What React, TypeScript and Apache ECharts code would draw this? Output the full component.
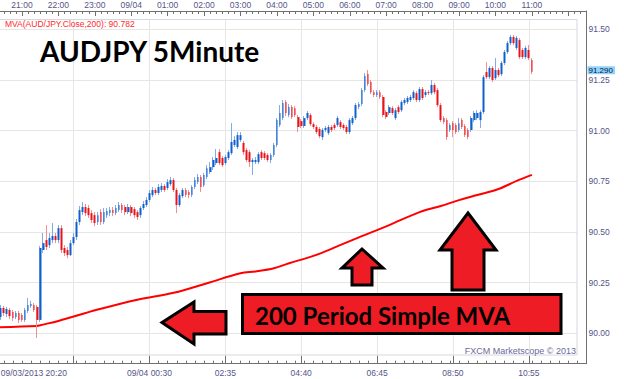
import React, { useEffect, useRef } from "react";
import * as echarts from "echarts";

// ---------- DATA ----------
const FIRST_MINUTE = 20 * 60 + 20; // 09/03/2013 20:20, 5-minute bars
const SLOT_COUNT = 195; // slots drawn on the time axis (to 12:30)

const pad = (n: number) => (n < 10 ? "0" + n : "" + n);
const categories: string[] = Array.from({ length: SLOT_COUNT }, (_, i) => {
  const m = (FIRST_MINUTE + 5 * i) % 1440;
  return pad(Math.floor(m / 60)) + ":" + pad(m % 60);
});

// [open, close, low, high]
const candles: number[][] = [
  [90.090, 90.115, 90.075, 90.130],
  [90.080, 90.125, 90.066, 90.140],
  [90.125, 90.100, 90.085, 90.135],
  [90.095, 90.120, 90.080, 90.130],
  [90.115, 90.085, 90.070, 90.125],
  [90.105, 90.075, 90.061, 90.115],
  [90.080, 90.100, 90.070, 90.110],
  [90.100, 90.066, 90.051, 90.110],
  [90.090, 90.066, 90.056, 90.100],
  [90.066, 90.115, 90.056, 90.125],
  [90.110, 90.140, 90.100, 90.174],
  [90.135, 90.144, 90.125, 90.160],
  [90.140, 90.115, 90.105, 90.149],
  [90.130, 90.066, 89.977, 90.140],
  [90.066, 90.421, 90.056, 90.431],
  [90.411, 90.445, 90.396, 90.495],
  [90.460, 90.426, 90.411, 90.534],
  [90.435, 90.470, 90.421, 90.495],
  [90.460, 90.480, 90.445, 90.544],
  [90.480, 90.460, 90.445, 90.495],
  [90.460, 90.519, 90.445, 90.534],
  [90.519, 90.411, 90.396, 90.534],
  [90.421, 90.396, 90.381, 90.435],
  [90.411, 90.386, 90.371, 90.426],
  [90.386, 90.445, 90.381, 90.460],
  [90.445, 90.475, 90.435, 90.495],
  [90.475, 90.549, 90.460, 90.564],
  [90.549, 90.608, 90.534, 90.628],
  [90.598, 90.623, 90.583, 90.648],
  [90.623, 90.593, 90.578, 90.638],
  [90.618, 90.583, 90.569, 90.633],
  [90.593, 90.559, 90.544, 90.608],
  [90.583, 90.544, 90.529, 90.598],
  [90.549, 90.583, 90.534, 90.598],
  [90.598, 90.549, 90.534, 90.613],
  [90.549, 90.598, 90.539, 90.618],
  [90.583, 90.603, 90.569, 90.618],
  [90.593, 90.608, 90.578, 90.623],
  [90.608, 90.593, 90.578, 90.623],
  [90.593, 90.618, 90.583, 90.633],
  [90.608, 90.633, 90.598, 90.648],
  [90.633, 90.608, 90.593, 90.643],
  [90.623, 90.598, 90.583, 90.633],
  [90.598, 90.623, 90.588, 90.638],
  [90.623, 90.593, 90.578, 90.633],
  [90.613, 90.583, 90.569, 90.623],
  [90.598, 90.574, 90.559, 90.608],
  [90.583, 90.618, 90.569, 90.628],
  [90.618, 90.638, 90.608, 90.653],
  [90.633, 90.658, 90.623, 90.672],
  [90.658, 90.692, 90.648, 90.707],
  [90.682, 90.707, 90.672, 90.722],
  [90.707, 90.692, 90.682, 90.717],
  [90.692, 90.722, 90.682, 90.736],
  [90.707, 90.727, 90.697, 90.741],
  [90.727, 90.707, 90.697, 90.736],
  [90.717, 90.746, 90.707, 90.761],
  [90.736, 90.756, 90.727, 90.771],
  [90.756, 90.707, 90.697, 90.766],
  [90.707, 90.633, 90.593, 90.717],
  [90.633, 90.682, 90.623, 90.692],
  [90.677, 90.707, 90.667, 90.717],
  [90.707, 90.682, 90.672, 90.717],
  [90.697, 90.682, 90.667, 90.707],
  [90.682, 90.722, 90.672, 90.731],
  [90.722, 90.756, 90.712, 90.771],
  [90.746, 90.771, 90.736, 90.786],
  [90.771, 90.722, 90.697, 90.781],
  [90.731, 90.781, 90.722, 90.791],
  [90.771, 90.815, 90.761, 90.830],
  [90.796, 90.820, 90.786, 90.845],
  [90.820, 90.855, 90.806, 90.870],
  [90.840, 90.865, 90.830, 90.909],
  [90.894, 90.840, 90.830, 90.909],
  [90.865, 90.830, 90.820, 90.875],
  [90.840, 90.870, 90.830, 90.880],
  [90.865, 90.894, 90.855, 90.904],
  [90.889, 90.944, 90.880, 91.037],
  [90.929, 90.954, 90.919, 90.973],
  [90.919, 90.978, 90.909, 90.993],
  [90.954, 90.978, 90.944, 90.993],
  [90.939, 90.894, 90.880, 90.949],
  [90.904, 90.855, 90.845, 90.914],
  [90.894, 90.845, 90.820, 90.904],
  [90.845, 90.855, 90.781, 90.865],
  [90.845, 90.855, 90.835, 90.870],
  [90.845, 90.884, 90.835, 90.894],
  [90.894, 90.865, 90.855, 90.904],
  [90.889, 90.865, 90.855, 90.899],
  [90.880, 90.855, 90.845, 90.889],
  [90.855, 90.880, 90.840, 90.889],
  [90.880, 90.929, 90.870, 90.939],
  [90.929, 91.052, 90.919, 91.062],
  [91.028, 91.087, 91.018, 91.126],
  [91.062, 91.136, 91.052, 91.151],
  [91.141, 91.087, 91.072, 91.151],
  [91.077, 91.116, 91.067, 91.131],
  [91.116, 91.067, 91.057, 91.126],
  [91.111, 91.077, 91.067, 91.121],
  [91.067, 91.018, 90.993, 91.077],
  [91.047, 91.023, 91.013, 91.057],
  [91.023, 91.062, 91.013, 91.072],
  [91.062, 91.087, 91.052, 91.097],
  [91.077, 91.032, 91.023, 91.087],
  [91.032, 91.018, 91.008, 91.042],
  [91.018, 90.993, 90.983, 91.028],
  [91.008, 90.973, 90.963, 91.018],
  [90.968, 91.003, 90.954, 91.013],
  [91.003, 91.013, 90.993, 91.023],
  [90.988, 91.018, 90.978, 91.028],
  [91.018, 91.003, 90.993, 91.028],
  [91.028, 91.013, 91.003, 91.037],
  [91.028, 91.062, 91.018, 91.072],
  [91.042, 91.018, 91.008, 91.052],
  [91.028, 91.013, 91.003, 91.037],
  [91.018, 90.993, 90.983, 91.028],
  [90.993, 91.052, 90.983, 91.062],
  [91.037, 91.062, 91.028, 91.072],
  [91.062, 91.126, 91.052, 91.136],
  [91.116, 91.131, 91.106, 91.141],
  [91.131, 91.200, 91.121, 91.210],
  [91.200, 91.269, 91.190, 91.284],
  [91.279, 91.230, 91.220, 91.299],
  [91.240, 91.190, 91.180, 91.250],
  [91.190, 91.176, 91.166, 91.200],
  [91.176, 91.190, 91.166, 91.200],
  [91.190, 91.166, 91.156, 91.200],
  [91.166, 91.077, 91.067, 91.176],
  [91.092, 91.067, 91.057, 91.101],
  [91.087, 91.116, 91.077, 91.126],
  [91.111, 91.087, 91.077, 91.121],
  [91.062, 91.101, 91.052, 91.111],
  [91.116, 91.092, 91.082, 91.126],
  [91.101, 91.141, 91.092, 91.151],
  [91.136, 91.151, 91.126, 91.161],
  [91.141, 91.161, 91.131, 91.171],
  [91.151, 91.166, 91.141, 91.176],
  [91.161, 91.190, 91.151, 91.200],
  [91.185, 91.151, 91.141, 91.195],
  [91.151, 91.205, 91.141, 91.215],
  [91.205, 91.161, 91.151, 91.215],
  [91.176, 91.190, 91.166, 91.200],
  [91.190, 91.185, 91.176, 91.200],
  [91.185, 91.225, 91.176, 91.250],
  [91.225, 91.190, 91.180, 91.235],
  [91.200, 91.126, 91.116, 91.210],
  [91.126, 91.052, 91.042, 91.136],
  [91.062, 91.042, 91.032, 91.072],
  [91.052, 90.968, 90.954, 91.062],
  [91.003, 91.028, 90.993, 91.037],
  [91.037, 91.003, 90.968, 91.047],
  [91.028, 90.993, 90.983, 91.037],
  [91.003, 91.037, 90.993, 91.062],
  [91.052, 91.018, 91.008, 91.062],
  [91.023, 90.978, 90.968, 91.032],
  [91.003, 90.968, 90.958, 91.013],
  [91.003, 91.062, 90.993, 91.072],
  [91.052, 91.087, 91.042, 91.097],
  [91.062, 91.087, 91.052, 91.101],
  [91.052, 91.092, 91.013, 91.101],
  [91.092, 91.264, 91.082, 91.274],
  [91.289, 91.264, 91.254, 91.338],
  [91.264, 91.309, 91.254, 91.319],
  [91.309, 91.250, 91.240, 91.319],
  [91.259, 91.299, 91.250, 91.358],
  [91.299, 91.274, 91.264, 91.309],
  [91.279, 91.334, 91.269, 91.343],
  [91.334, 91.388, 91.324, 91.398],
  [91.388, 91.432, 91.378, 91.442],
  [91.432, 91.462, 91.422, 91.472],
  [91.462, 91.432, 91.422, 91.472],
  [91.408, 91.457, 91.398, 91.467],
  [91.447, 91.363, 91.353, 91.457],
  [91.398, 91.363, 91.353, 91.408],
  [91.363, 91.408, 91.353, 91.418],
  [91.398, 91.358, 91.348, 91.422],
  [91.348, 91.290, 91.279, 91.358],
];

// 200-period moving average, read at sample bars: [bar index, value]
const mvaPoints: number[][] = [
  [0, 90.030], [13, 90.036], [14, 90.040], [20, 90.061], [33, 90.117],
  [46, 90.166], [58, 90.200], [69, 90.247], [80, 90.296], [85, 90.305],
  [91, 90.321], [96, 90.346], [102, 90.372], [107, 90.398], [113, 90.436],
  [119, 90.473], [129, 90.534], [139, 90.598], [146, 90.628], [152, 90.657],
  [158, 90.682], [165, 90.712], [171, 90.752], [176, 90.782],
];

const topLabelText = ["21:00", "22:00", "23:00", "09/04", "01:00", "02:00", "03:00", "04:00", "05:00", "06:00", "07:00", "08:00", "09:00", "10:00", "11:00"];
const topLabelIdx = [8, 20, 32, 44, 56, 68, 80, 92, 104, 116, 128, 140, 152, 164, 176];
const bottomLabelText = ["09/03/2013 20:20", "09/04 00:30", "02:35", "04:40", "06:45", "08:50", "10:55"];
const bottomLabelIdx = [0, 50, 75, 100, 125, 150, 175];
const lastPrice = 91.29;
const mvaLast = 90.782;

// ---------- STYLE ----------
const AX = "#707070";
const LBL = "#55558a";
const GRIDC = "#e6e6e6";
const FONT = "Liberation Sans, Arial, sans-serif";
const UP = "#1060cc";
const DOWN = "#e8141c";
const UP_W = "#80aae8";
const DOWN_W = "#f29090";

export default function App() {
  const ref = useRef<HTMLDivElement>(null);
  useEffect(() => {
    document.body.style.margin = "0";
    if (!ref.current) return;
    const chart = echarts.init(ref.current, undefined, { renderer: "svg" });
    const bodies = candles.map(([o, c]) => [o, c, Math.min(o, c), Math.max(o, c)]);
    const hideAll = { axisLine: { show: false }, axisTick: { show: false }, axisLabel: { show: false }, splitLine: { show: false } };
    const gridBase = { containLabel: false, outerBoundsMode: "none" };
    const option: any = {
      animation: false,
      backgroundColor: "#ffffff",
      title: {
        text: "AUDJPY 5Minute",
        left: 35,
        top: 32,
        textStyle: { fontFamily: "Lato, sans-serif", fontWeight: 700, fontSize: 28, color: "#000" },
      },
      grid: [
        { ...gridBase, left: -2.3, right: 37.5, top: 11, bottom: 15.3 },
        { ...gridBase, left: -2.3, right: 37.5, top: 19.5, bottom: 24 },
        { ...gridBase, left: -2.3, right: 47, top: -21.37, bottom: -4.97 },
      ],
      xAxis: [
        {
          gridIndex: 0, type: "category", data: categories, boundaryGap: false, position: "bottom",
          axisLine: { lineStyle: { color: AX, width: 1 } },
          axisTick: { inside: true, length: 8, interval: (i: number) => i % 25 === 0, lineStyle: { color: AX } },
          axisLabel: {
            interval: (i: number) => bottomLabelIdx.includes(i),
            formatter: (_v: string, i: number) => {
              const t = bottomLabelText[bottomLabelIdx.indexOf(i)] ?? "";
              return i === 0 ? "{first|" + t + "}" : t;
            },
            rich: { first: { padding: [0, 0, 0, 3], color: LBL, fontSize: 8.5, fontFamily: FONT } },
            color: LBL, fontSize: 8.5, fontFamily: FONT, margin: 5, alignMinLabel: "left",
          },
          splitLine: { show: false },
        },
        {
          gridIndex: 0, type: "category", data: categories, boundaryGap: false, position: "bottom",
          axisLine: { show: false }, axisLabel: { show: false }, splitLine: { show: false },
          axisTick: { inside: true, length: 3, interval: (i: number) => i % 3 === 2, lineStyle: { color: AX } },
        },
        {
          gridIndex: 0, type: "category", data: categories, boundaryGap: false, position: "top",
          axisLine: { lineStyle: { color: AX, width: 1 } },
          axisTick: { inside: true, length: 5, interval: (i: number) => i % 12 === 8, lineStyle: { color: AX } },
          axisLabel: {
            interval: (i: number) => topLabelIdx.includes(i),
            formatter: (_v: string, i: number) => topLabelText[topLabelIdx.indexOf(i)] ?? "",
            color: LBL, fontSize: 8.5, fontFamily: FONT, margin: 2,
          },
          splitLine: { show: false },
        },
        {
          gridIndex: 0, type: "category", data: categories, boundaryGap: false, position: "top",
          axisLine: { show: false }, axisLabel: { show: false }, splitLine: { show: false },
          axisTick: { inside: true, length: 3, interval: (i: number) => i % 2 === 0, lineStyle: { color: AX } },
        },
        {
          gridIndex: 1, type: "category", data: categories, boundaryGap: false,
          axisLine: { show: false }, axisTick: { show: false }, axisLabel: { show: false },
          splitLine: { show: true, interval: (i: number) => i % 25 === 0 && i > 0, lineStyle: { color: GRIDC } },
        },
        { gridIndex: 2, type: "value", show: false },
      ],
      yAxis: [
        {
          gridIndex: 0, type: "value", position: "right", min: 89.85, max: 91.5903, interval: 0.05,
          axisLine: { show: true, lineStyle: { color: AX, width: 1 } },
          axisTick: { inside: true, length: 3, lineStyle: { color: AX } },
          axisLabel: { show: false }, splitLine: { show: false },
        },
        { gridIndex: 1, type: "value", ...hideAll },
        {
          gridIndex: 2, type: "value", position: "right", min: 89.75, max: 91.75, interval: 0.25, offset: 9.5,
          axisLine: { show: false },
          axisTick: { inside: true, length: 9, lineStyle: { color: AX } },
          axisLabel: {
            formatter: (v: number) => v.toFixed(2), color: LBL, fontSize: 8.5, fontFamily: FONT, margin: 2,
            showMinLabel: false, showMaxLabel: false,
          },
          splitLine: { show: true, lineStyle: { color: GRIDC } },
        },
      ],
      series: [
        {
          type: "line", xAxisIndex: 0, yAxisIndex: 0, data: mvaPoints, showSymbol: false, symbol: "none",
          smooth: 0.35, lineStyle: { color: "#ff0000", width: 2 }, z: 3,
        },
        {
          type: "candlestick", xAxisIndex: 0, yAxisIndex: 0, data: candles, barWidth: 1,
          itemStyle: { color: UP_W, color0: DOWN_W, borderColor: UP_W, borderColor0: DOWN_W, borderWidth: 1 }, z: 4,
        },
        {
          type: "candlestick", xAxisIndex: 0, yAxisIndex: 0, data: bodies, barWidth: 2.2,
          itemStyle: { color: UP, color0: DOWN, borderColor: UP, borderColor0: DOWN, borderWidth: 0 }, z: 5,
          markLine: {
            silent: true, symbol: "none", data: [{ yAxis: lastPrice }],
            lineStyle: { color: "rgba(0,0,0,0)", width: 0 },
            label: {
              show: true, position: "end", distance: 1, formatter: lastPrice.toFixed(3), backgroundColor: "#8dd3fb",
              color: "#101040", fontSize: 8, lineHeight: 8, fontFamily: FONT, padding: [0, 2, 0, 1], offset: [0, -1.5],
            },
          },
        },
      ],
      graphic: [
        { type: "rect", silent: true, z: 1, shape: { x: -1, y: 19.5, width: 578, height: 335.5 }, style: { fill: "none", stroke: "#d6d6e0", lineWidth: 1 } },
        { type: "text", x: 5, y: 24, z: 10, style: { text: "MVA(AUD/JPY.Close,200): " + mvaLast.toFixed(3), fill: "#ff2a2a", fontSize: 8.5, fontFamily: FONT, verticalAlign: "middle" } },
        { type: "text", x: 576, y: 351, z: 10, style: { text: "FXCM Marketscope © 2013", fill: "#6a6a9a", fontSize: 9, fontFamily: FONT, align: "right", verticalAlign: "middle" } },
        {
          type: "polygon", z: 20,
          shape: { points: [[162, 322.5], [194, 302], [194, 311.5], [226, 311.5], [226, 334], [194, 334], [194, 344]] },
          style: { fill: "#ee1c25", stroke: "#000", lineWidth: 3, lineJoin: "miter" },
        },
        {
          type: "polygon", z: 20,
          shape: { points: [[362, 249], [383, 268], [372, 268], [372, 285], [352, 285], [352, 268], [342, 268]] },
          style: { fill: "#ee1c25", stroke: "#000", lineWidth: 3, lineJoin: "miter" },
        },
        {
          type: "polygon", z: 20,
          shape: { points: [[468, 213], [496, 250], [484, 250], [484, 290], [452, 290], [452, 250], [440, 250]] },
          style: { fill: "#ee1c25", stroke: "#000", lineWidth: 3, lineJoin: "miter" },
        },
        { type: "rect", z: 20, shape: { x: 242.5, y: 294.5, width: 318.5, height: 39 }, style: { fill: "#ee1c25", stroke: "#000", lineWidth: 3 } },
        { type: "text", x: 255, y: 315, z: 21, style: { text: "200 Period Simple MVA", fill: "#000", fontSize: 24, fontWeight: 700, fontFamily: "Lato, sans-serif", verticalAlign: "middle" } },
      ],
    };
    chart.setOption(option);
    return () => chart.dispose();
  }, []);
  return <div ref={ref} style={{ width: 624, height: 379 }} />;
}
